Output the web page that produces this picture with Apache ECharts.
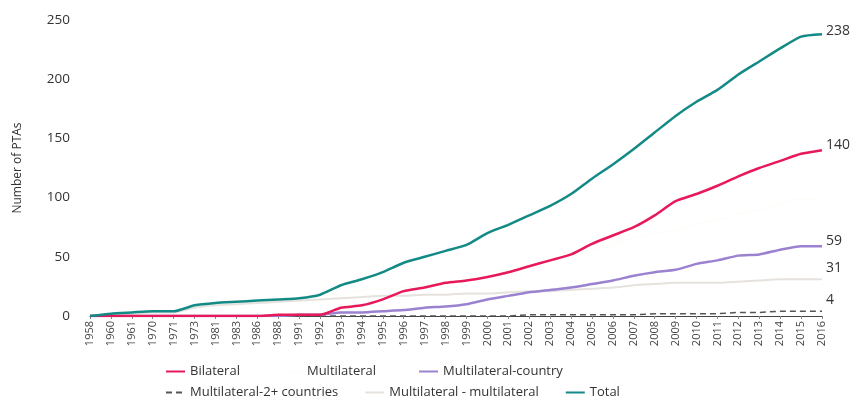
<!DOCTYPE html>
<html><head><meta charset="utf-8">
<script src="https://cdn.jsdelivr.net/npm/echarts@6/dist/echarts.min.js"></script>
<style>html,body{margin:0;padding:0;background:#fff}#c{width:855px;height:397px}</style>
</head><body><div id="c"></div>
<script>
const years = ['1958','1960','1961','1970','1971','1973','1981','1983','1986','1988','1991','1992','1993','1994','1995','1996','1997','1998','1999','2000','2001','2002','2003','2004','2005','2006','2007','2008','2009','2010','2011','2012','2013','2014','2015','2016'];
const yTicks = [0, 50, 100, 150, 200, 250];
const bilateral = [0,0,0,0,0,0,0,0,0,1,1,1,7,9,14,21,24,28,30,33,37,42,47,52,61,68,75,85,97,103,110,118,125,131,137,140];
const multilateral = [0,2,3,4,4,9,11,12,13,13,14,17,19,22,23,24,26,27,30,37,40,43,46,51,55,60,66,70,72,78,81,86,90,95,99,98];
const multiCountry = [0,0,0,0,0,0,0,0,0,0,1,1,3,3,4,5,7,8,10,14,17,20,22,24,27,30,34,37,39,44,47,51,52,56,59,59];
const multi2plus = [0,0,0,0,0,0,0,0,0,0,0,0,0,0,0,0,0,0,0,0,0,1,1,1,1,1,1,2,2,2,2,3,3,4,4,4];
const multiMulti = [0,1,2,3,3,7,9,10,11,12,13,14,15,16,17,17,18,18,19,19,20,21,21,22,23,24,26,27,28,28,28,29,30,31,31,31];
const total = [0,2,3,4,4,9,11,12,13,14,15,18,26,31,37,45,50,55,60,70,77,85,93,103,116,128,141,155,169,181,191,204,215,226,236,238];

const FONT = "'Open Sans', 'Noto Sans', sans-serif";
function endLbl(dy) {
  return { show: true, formatter: p => String(p.value), color: '#333', fontSize: 14, fontFamily: FONT, distance: 4, offset: [0, dy] };
}
const legendText = { fontSize: 13, color: '#333', fontFamily: FONT };
const legendBase = { itemWidth: 19, itemHeight: 10, itemStyle: { opacity: 0 }, textStyle: legendText };
const chart = echarts.init(document.getElementById('c'), null, { renderer: 'canvas' });
chart.setOption({
  animation: false,
  textStyle: { fontFamily: FONT },
  grid: { left: 90, right: 33, top: 20, bottom: 81, containLabel: false },
  legend: [
    Object.assign({ data: ['Bilateral', 'Multilateral', 'Multilateral-country'], left: 160, top: 360, itemGap: 42 }, legendBase),
    Object.assign({ data: ['Multilateral-2+ countries', 'Multilateral - multilateral', 'Total'], left: 160, top: 381, itemGap: 26 }, legendBase)
  ],
  xAxis: {
    type: 'category', data: years, boundaryGap: false,
    axisLine: { lineStyle: { color: '#444', width: 1 } },
    axisTick: { show: true, length: 3, lineStyle: { color: '#888' } },
    axisLabel: { rotate: 90, fontSize: 11, color: '#444', margin: 5, interval: 0 }
  },
  yAxis: {
    type: 'value', min: 0, max: 250, interval: 50,
    name: 'Number of PTAs', nameLocation: 'middle', nameGap: 66, nameRotate: 90,
    nameTextStyle: { fontSize: 12, color: '#333' },
    axisLine: { show: false }, axisTick: { show: false },
    splitLine: { show: false },
    axisLabel: { fontSize: 13.5, color: '#333', margin: 20,
      formatter: v => yTicks.includes(v) ? String(v) : '' }
  },
  series: [
    { name: 'Multilateral', type: 'line', data: multilateral, symbol: 'none', smooth: 0.2,
      lineStyle: { color: '#fdfdfa', width: 2 }, itemStyle: { color: '#fdfdfa' } },
    { name: 'Multilateral - multilateral', type: 'line', data: multiMulti, symbol: 'none', smooth: 0.2,
      lineStyle: { color: '#e6e2de', width: 2 }, itemStyle: { color: '#e6e2de' }, endLabel: endLbl(-11) },
    { name: 'Multilateral-2+ countries', type: 'line', data: multi2plus, symbol: 'none',
      lineStyle: { color: '#555', width: 1.5, type: [6, 4] }, itemStyle: { color: '#555' }, endLabel: endLbl(-11) },
    { name: 'Multilateral-country', type: 'line', data: multiCountry, symbol: 'none', smooth: 0.2,
      lineStyle: { color: '#9a82d0', width: 2.5 }, itemStyle: { color: '#9a82d0' }, endLabel: endLbl(-5) },
    { name: 'Bilateral', type: 'line', data: bilateral, symbol: 'none', smooth: 0.2,
      lineStyle: { color: '#e8195a', width: 2.5 }, itemStyle: { color: '#e8195a' }, endLabel: endLbl(-5) },
    { name: 'Total', type: 'line', data: total, symbol: 'none', smooth: 0.2,
      lineStyle: { color: '#138a86', width: 2.5 }, itemStyle: { color: '#138a86' }, endLabel: endLbl(-3) }
  ]
});
</script></body></html>
